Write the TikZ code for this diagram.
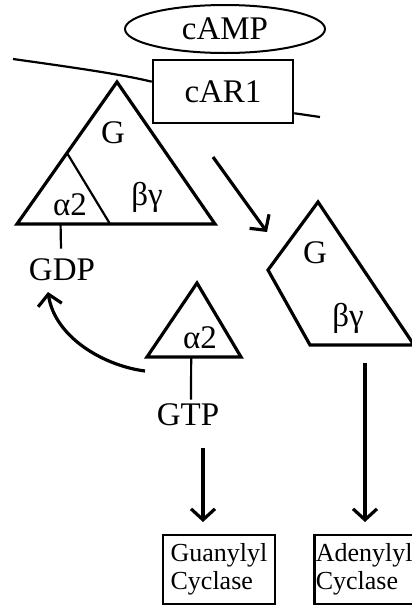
\documentclass[tikz,border=0pt]{standalone}
\usepackage{fontspec}
\setmainfont{Liberation Serif}
\usetikzlibrary{arrows.meta,positioning,calc,shapes.geometric}

\begin{document}
\begin{tikzpicture}[x=1pt,y=-1pt,
    big/.style={font=\fontsize{33}{36}\selectfont,inner sep=0pt},
    lab/.style={font=\fontsize{33}{36}\selectfont,inner sep=0pt},
    cyc/.style={draw,line width=2.5pt,font=\fontsize{26}{28}\selectfont,
                align=left,inner xsep=4pt,inner ysep=2pt,minimum height=69pt},
    edge/.style={line width=3.2pt,line join=miter},
    link/.style={line width=2.2pt},
    arr/.style={line width=3.2pt,-{Straight Barb[length=11pt,width=24pt]}}]
  \path[use as bounding box,clip] (0,0) rectangle (412,606);

  % receptor in the membrane
  \node[draw,ellipse,line width=2pt,minimum width=200pt,minimum height=48pt,big]
       (camp) at (225,29) {cAMP};
  \node[draw,line width=2.5pt,minimum width=140pt,minimum height=63pt,big]
       (car) at (223,91.5) {cAR1};
  \coordinate (memL) at (13,59);
  \coordinate (memR) at (320,117);
  \draw[link] (memL) .. controls (70,67) and (120,74) .. ($(car.north west)!0.35!(car.south west)$);
  \draw[link] ($(car.south east)+(0,-11)$) -- (memR);

  % heterotrimer
  \coordinate (gTop) at (117,82);
  \coordinate (gLeft) at (17,224);
  \coordinate (gRight) at (215,224);
  \draw[edge] (gTop) -- (gLeft) -- (gRight) -- cycle;
  \draw[link] ($(gTop)!0.5!(gLeft)$) -- ($(gLeft)!0.47!(gRight)$);
  \node[lab] (gG) at (113,133) {G};
  \node[lab] (gBG) at (147,197) {βγ};
  \node[lab] (gA) at (70,205) {α2};
  \node[big] (gdp) at (62,270) {GDP};
  \draw[link] ($(gLeft)!0.22!(gRight)$) -- ($(gdp.north)+(-1,-10)$);

  % released beta-gamma
  \coordinate (bTop) at (318,202);
  \coordinate (bLeft) at (268,270);
  \coordinate (bLow) at (310,345);
  \coordinate (bRight) at (414,345);
  \draw[edge] (bTop) -- (bLeft) -- (bLow) -- (bRight) -- cycle;
  \node[lab] (bG) at (315,253) {G};
  \node[lab] (bBG) at (348,318) {βγ};

  % released alpha2
  \coordinate (aTop) at (197,283);
  \coordinate (aLeft) at (147,357);
  \coordinate (aRight) at (241,357);
  \draw[edge] (aTop) -- (aLeft) -- (aRight) -- cycle;
  \node[lab] (aA) at (200,338) {α2};
  \node[big] (gtp) at (188,415) {GTP};
  \draw[link] ($(aLeft)!0.47!(aRight)$) -- ($(gtp.north)+(3,-4)$);

  % effectors
  \node[cyc,minimum width=112pt] (gc) at (219,569.5) {Guanylyl\\Cyclase};
  \node[cyc,anchor=west,inner xsep=1.5pt] (ac) at (313,569.5) {Adenylyl\\Cyclase};

  \coordinate (actS) at (213,157);
  \coordinate (actE) at (267,232);
  \draw[arr] (actS) -- (actE);
  \coordinate (curS) at (145,371);
  \coordinate (curE) at (48,292);
  \draw[arr] (curS) .. controls (105,366) and (55,338) .. (curE);
  \coordinate (gcS) at (203,448);
  \draw[arr] (gcS) -- (gcS |- 0,522);
  \coordinate (acS) at (365,363);
  \draw[arr] (acS) -- (acS |- 0,522);
\end{tikzpicture}
\end{document}
